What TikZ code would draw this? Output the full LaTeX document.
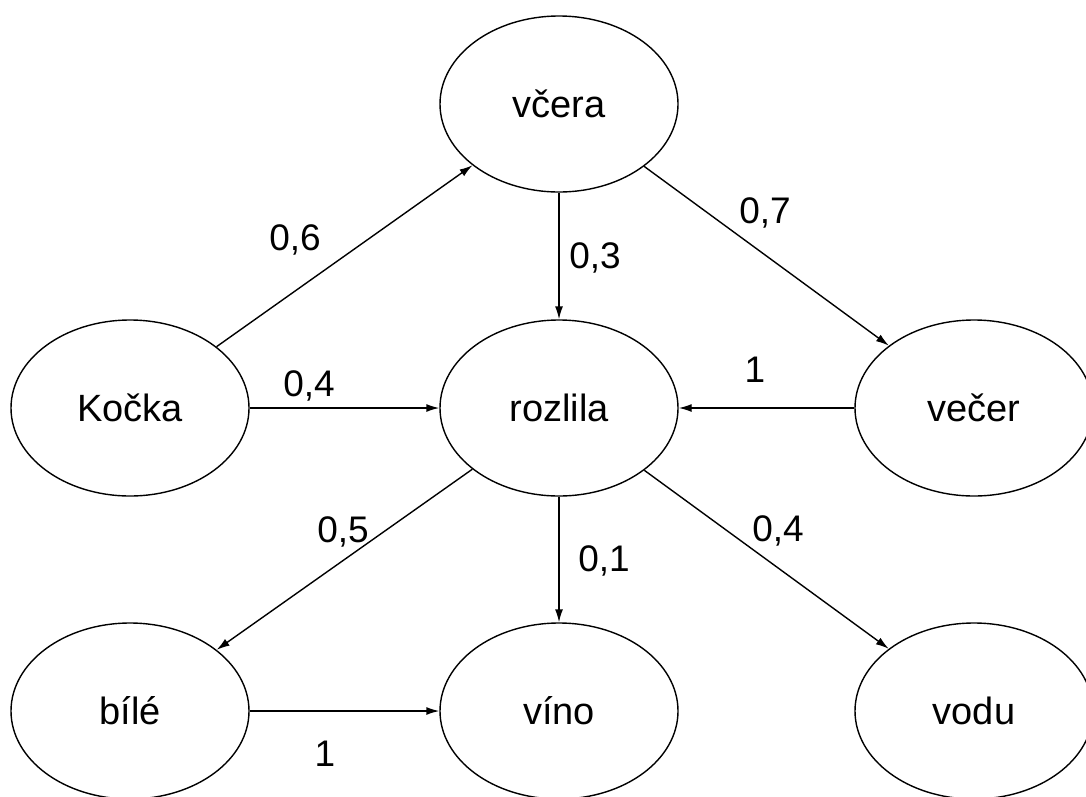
\documentclass[tikz,border=0pt]{standalone}
\usepackage{fontspec}
\setmainfont{Liberation Sans}
\usetikzlibrary{shapes.geometric,arrows.meta}
\begin{document}
\begin{tikzpicture}[x=1pt,y=-1pt,
  word/.style={ellipse,draw,line width=1.4pt,minimum width=238pt,minimum height=176pt,inner sep=0pt,
    font=\fontsize{38}{44}\selectfont},
  link/.style={line width=1.4pt,-{Latex[length=13pt,width=8pt]}},
  weight/.style={anchor=base,font=\fontsize{37}{44}\selectfont}]
\useasboundingbox (0,0) rectangle (1086,796);
% word nodes
\node[word] (vcera)   at (559,104) {včera};
\node[word] (kocka)   at (130,408) {Kočka};
\node[word] (rozlila) at (559,408) {rozlila};
\node[word] (vecer)   at (974,408) {večer};
\node[word] (bile)    at (130,711) {bílé};
\node[word] (vino)    at (559,711) {víno};
\node[word] (vodu)    at (974,711) {vodu};
% transitions
\draw[link] (kocka) -- (vcera);
\draw[link] (vcera) -- (rozlila);
\draw[link] (vcera) -- (vecer);
\draw[link] (kocka) -- (rozlila);
\draw[link] (vecer) -- (rozlila);
\draw[link] (rozlila) -- (bile);
\draw[link] (rozlila) -- (vino);
\draw[link] (rozlila) -- (vodu);
\draw[link] (bile) -- (vino);
% transition weights
\node[weight] (w1) at (295,250) {0,6};
\node[weight] (w2) at (595,268) {0,3};
\node[weight] (w3) at (765,223) {0,7};
\node[weight] (w4) at (309,396) {0,4};
\node[weight] (w5) at (755,382) {1};
\node[weight] (w6) at (343,542) {0,5};
\node[weight] (w7) at (604,571) {0,1};
\node[weight] (w8) at (778,541) {0,4};
\node[weight] (w9) at (325,766) {1};
\end{tikzpicture}
\end{document}
